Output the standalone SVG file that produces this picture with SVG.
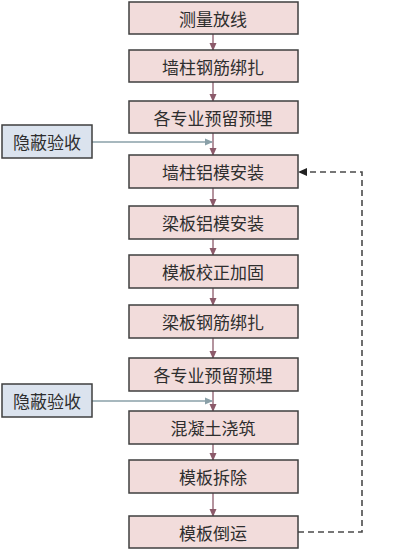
<svg xmlns="http://www.w3.org/2000/svg" width="409" height="551" viewBox="0 0 409 551">
<style>
.b rect{fill:#f2dcdb;stroke:#3f3f3f;stroke-width:1.5}
.s rect{fill:#dbe3ee;stroke:#3f3f3f;stroke-width:1.5}
text{font-family:"Noto Sans CJK SC","Noto Sans",sans-serif;font-size:17px;fill:#2e2e2e;text-anchor:middle;dominant-baseline:central}
.m{stroke:#8c5a6a;stroke-width:1.3;fill:none}
.g{stroke:#8aa0a8;stroke-width:1.3;fill:none}
.d{stroke:#4a4a4a;stroke-width:1.6;fill:none;stroke-dasharray:6 4}
</style>
<defs>
<marker id="am" markerWidth="8" markerHeight="8" refX="7" refY="4" orient="auto" markerUnits="userSpaceOnUse"><path d="M0,0.5 L8,4 L0,7.5 Z" fill="#8c5a6a"/></marker>
<marker id="ag" markerWidth="8" markerHeight="8" refX="7" refY="4" orient="auto" markerUnits="userSpaceOnUse"><path d="M0,0.5 L8,4 L0,7.5 Z" fill="#8aa0a8"/></marker>
<marker id="ad" markerWidth="9" markerHeight="9" refX="8" refY="4.5" orient="auto" markerUnits="userSpaceOnUse"><path d="M0,0.5 L9,4.5 L0,8.5 Z" fill="#222"/></marker>
</defs>
<g id="connectors">
<path class="m" d="M213,34 V50" marker-end="url(#am)"/>
<path class="m" d="M213,82 V101" marker-end="url(#am)"/>
<path class="m" d="M213,133 V155" marker-end="url(#am)"/>
<path class="m" d="M213,188 V206" marker-end="url(#am)"/>
<path class="m" d="M213,239 V255" marker-end="url(#am)"/>
<path class="m" d="M213,288 V305" marker-end="url(#am)"/>
<path class="m" d="M213,338 V358" marker-end="url(#am)"/>
<path class="m" d="M213,391 V411" marker-end="url(#am)"/>
<path class="m" d="M213,444 V460" marker-end="url(#am)"/>
<path class="m" d="M213,493 V516" marker-end="url(#am)"/>
<path class="g" d="M92,142 H212" marker-end="url(#ag)"/>
<path class="g" d="M92,401 H212" marker-end="url(#ag)"/>
<path class="d" d="M298,532 H362 V172 H299" marker-end="url(#ad)"/>
</g>
<g id="n1" class="b"><rect x="129" y="2" width="169" height="32"/><text x="213" y="18">测量放线</text></g>
<g id="n2" class="b"><rect x="129" y="50" width="169" height="32"/><text x="213" y="66">墙柱钢筋绑扎</text></g>
<g id="n3" class="b"><rect x="129" y="101" width="169" height="32"/><text x="213" y="117">各专业预留预埋</text></g>
<g id="n4" class="b"><rect x="129" y="155" width="169" height="33"/><text x="213" y="171.5">墙柱铝模安装</text></g>
<g id="n5" class="b"><rect x="129" y="206" width="169" height="33"/><text x="213" y="222.5">梁板铝模安装</text></g>
<g id="n6" class="b"><rect x="129" y="255" width="169" height="33"/><text x="213" y="271.5">模板校正加固</text></g>
<g id="n7" class="b"><rect x="129" y="305" width="169" height="33"/><text x="213" y="321.5">梁板钢筋绑扎</text></g>
<g id="n8" class="b"><rect x="129" y="358" width="169" height="33"/><text x="213" y="374.5">各专业预留预埋</text></g>
<g id="n9" class="b"><rect x="129" y="411" width="169" height="33"/><text x="213" y="427.5">混凝土浇筑</text></g>
<g id="n10" class="b"><rect x="129" y="460" width="169" height="33"/><text x="213" y="476.5">模板拆除</text></g>
<g id="n11" class="b"><rect x="129" y="516" width="169" height="32"/><text x="213" y="532">模板倒运</text></g>
<g id="s1" class="s"><rect x="2" y="125" width="90" height="33"/><text x="47" y="141.5">隐蔽验收</text></g>
<g id="s2" class="s"><rect x="2" y="384" width="90" height="33"/><text x="47" y="400.5">隐蔽验收</text></g>
</svg>
